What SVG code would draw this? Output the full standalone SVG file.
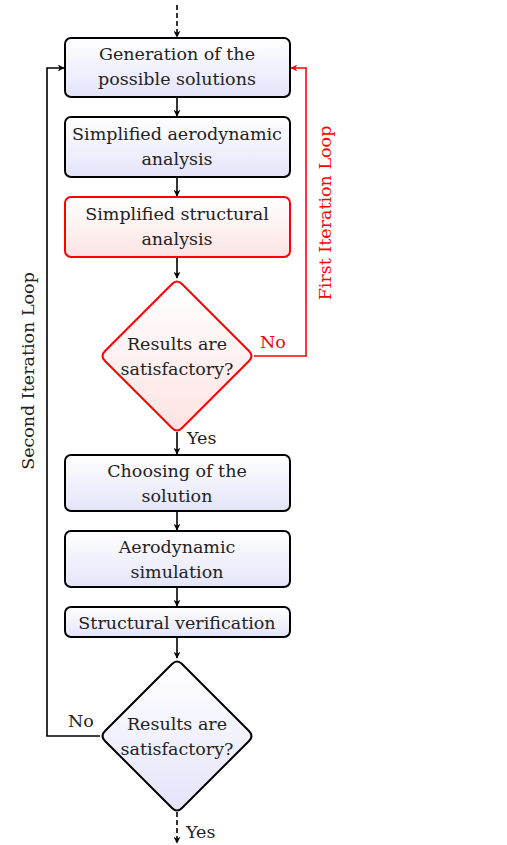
<svg xmlns="http://www.w3.org/2000/svg" width="507" height="845" viewBox="0 0 507 845">
  <defs>
    <linearGradient id="gBlue" x1="0" y1="0" x2="0" y2="1">
      <stop offset="0" stop-color="#ffffff"/>
      <stop offset="1" stop-color="#e4e4fa"/>
    </linearGradient>
    <linearGradient id="gRed" x1="0" y1="0" x2="0" y2="1">
      <stop offset="0" stop-color="#ffffff"/>
      <stop offset="1" stop-color="#fde3e3"/>
    </linearGradient>
    <marker id="ah" viewBox="0 0 10 10" refX="9" refY="5" markerWidth="7" markerHeight="7" markerUnits="userSpaceOnUse" orient="auto">
      <path d="M0,0 L10,5 L0,10 L3,5 Z" fill="#000"/>
    </marker>
    <marker id="ahr" viewBox="0 0 10 10" refX="9" refY="5" markerWidth="7" markerHeight="7" markerUnits="userSpaceOnUse" orient="auto">
      <path d="M0,0 L10,5 L0,10 L3,5 Z" fill="#f00"/>
    </marker>
  </defs>
  <style>
    text { font-size: 17.5px; fill: #222; text-anchor: middle; }
    .box { fill: url(#gBlue); stroke: #000; stroke-width: 2; }
    .rbox { fill: url(#gRed); stroke: #f00; stroke-width: 2; }
    .ln { fill: none; stroke: #000; stroke-width: 1.6; }
    .rln { fill: none; stroke: #f00; stroke-width: 1.6; }
    .dash { stroke-dasharray: 5 3; }
    .lbl { text-anchor: start; }
    .red { fill: #f00; }
  </style>

  <g font-family="'DejaVu Serif', serif">
  <!-- connectors -->
  <g id="connectors">
    <path class="ln dash" d="M177,5 V37" marker-end="url(#ah)"/>
    <path class="ln" d="M177,97 V116" marker-end="url(#ah)"/>
    <path class="ln" d="M177,177 V196" marker-end="url(#ah)"/>
    <path class="ln" d="M177,257 V278" marker-end="url(#ah)"/>
    <path class="ln" d="M177,432 V454" marker-end="url(#ah)"/>
    <path class="ln" d="M177,511 V530" marker-end="url(#ah)"/>
    <path class="ln" d="M177,587 V606" marker-end="url(#ah)"/>
    <path class="ln" d="M177,637 V658" marker-end="url(#ah)"/>
    <path class="ln dash" d="M177,812 V843" marker-end="url(#ah)"/>
    <path class="rln" d="M254,356 H306 V68 H291" marker-end="url(#ahr)"/>
    <path class="ln" d="M100,736 H47 V68 H64" marker-end="url(#ah)"/>
    <text x="187" y="444" class="lbl">Yes</text>
    <text x="186" y="838" class="lbl">Yes</text>
    <text x="260" y="348" class="lbl red">No</text>
    <text x="68" y="727" class="lbl">No</text>
    <text transform="translate(331,213) rotate(-90)" class="red">First Iteration Loop</text>
    <text transform="translate(34,371) rotate(-90)">Second Iteration Loop</text>
  </g>

  <g id="generation">
    <rect class="box" x="65" y="38" width="225" height="59" rx="6"/>
    <text x="177" y="60">Generation of the</text>
    <text x="177" y="85">possible solutions</text>
  </g>
  <g id="simplified-aero">
    <rect class="box" x="65" y="117" width="225" height="60" rx="6"/>
    <text x="177" y="140">Simplified aerodynamic</text>
    <text x="177" y="165">analysis</text>
  </g>
  <g id="simplified-struct">
    <rect class="rbox" x="65" y="197" width="225" height="60" rx="6"/>
    <text x="177" y="220">Simplified structural</text>
    <text x="177" y="245">analysis</text>
  </g>
  <g id="decision-1">
    <path class="rbox" d="M172,284 Q177,279 182,284 L249,351 Q254,356 249,361 L182,428 Q177,433 172,428 L105,361 Q100,356 105,351 Z"/>
    <text x="177" y="350">Results are</text>
    <text x="177" y="375">satisfactory?</text>
  </g>
  <g id="choosing">
    <rect class="box" x="65" y="455" width="225" height="56" rx="6"/>
    <text x="177" y="477">Choosing of the</text>
    <text x="177" y="502">solution</text>
  </g>
  <g id="aero-sim">
    <rect class="box" x="65" y="531" width="225" height="56" rx="6"/>
    <text x="177" y="553">Aerodynamic</text>
    <text x="177" y="578">simulation</text>
  </g>
  <g id="struct-verif">
    <rect class="box" x="65" y="607" width="225" height="30" rx="6"/>
    <text x="177" y="629">Structural verification</text>
  </g>
  <g id="decision-2">
    <path class="box" d="M172,664 Q177,659 182,664 L249,731 Q254,736 249,741 L182,808 Q177,813 172,808 L105,741 Q100,736 105,731 Z"/>
    <text x="177" y="730">Results are</text>
    <text x="177" y="755">satisfactory?</text>
  </g>
  </g>
</svg>
